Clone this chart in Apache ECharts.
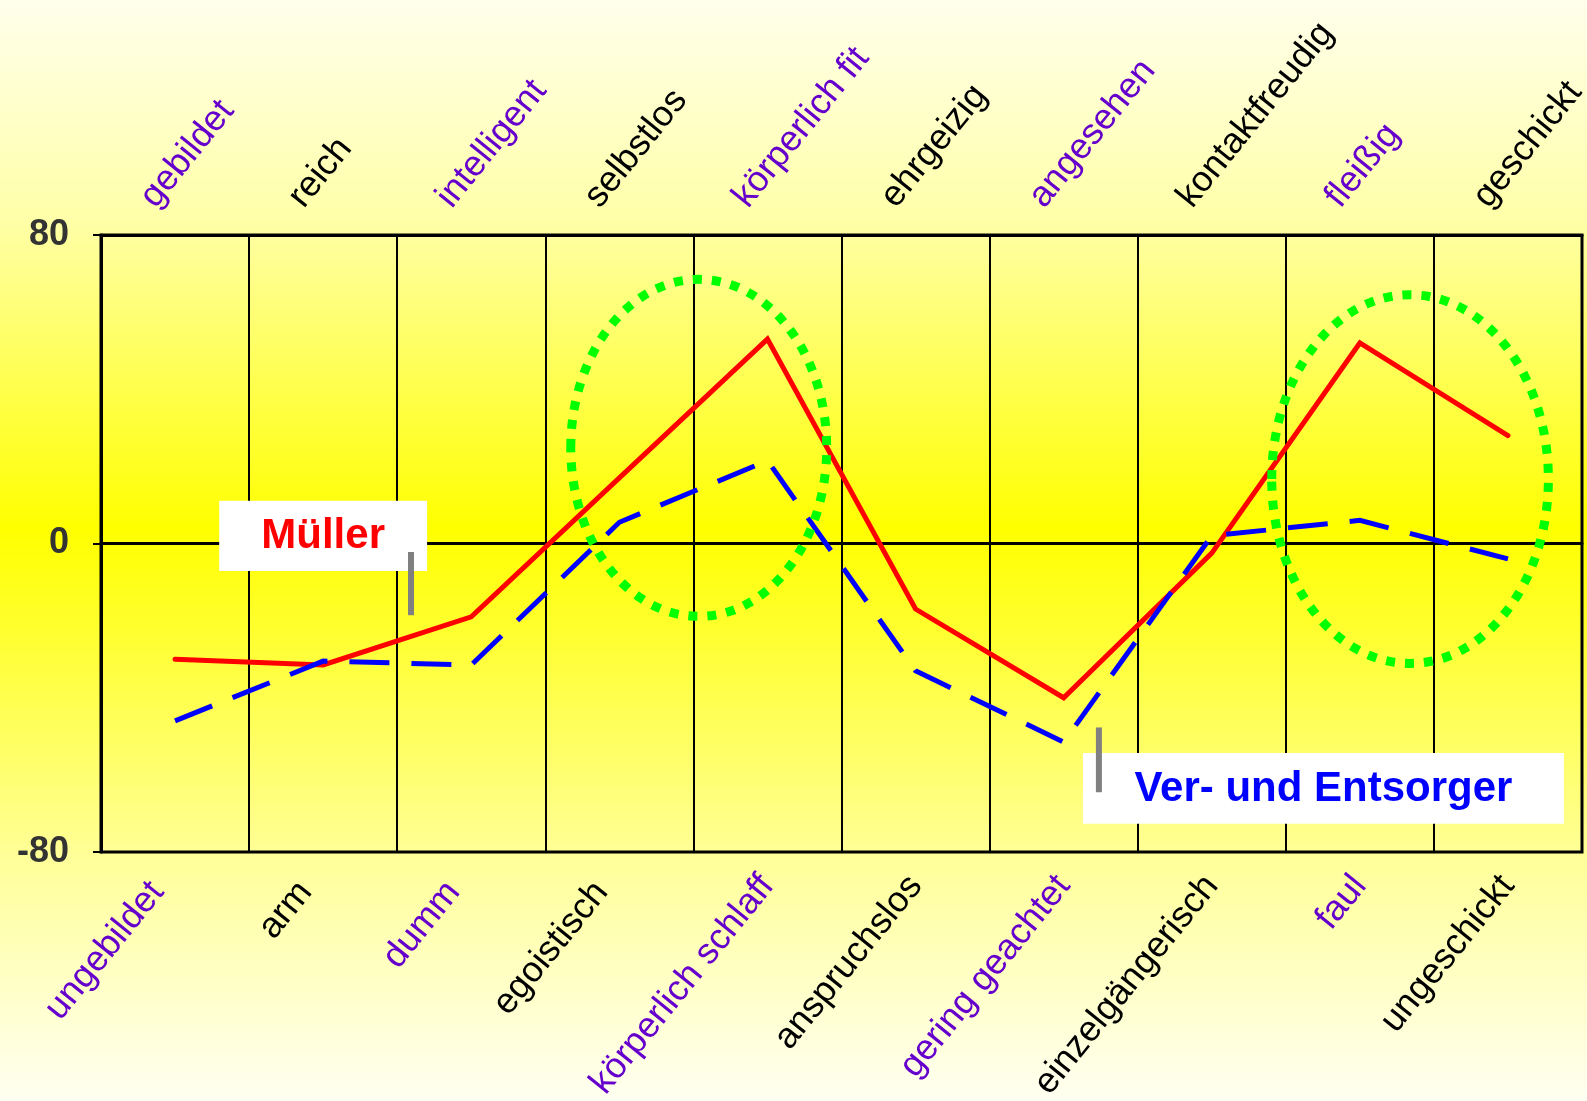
<!DOCTYPE html>
<html>
<head>
<meta charset="utf-8">
<script src="https://cdn.jsdelivr.net/npm/echarts@6/dist/echarts.min.js"></script>
<style>
html,body{margin:0;padding:0;background:#ffffec;}
#chart{width:1587px;height:1101px;}
</style>
</head>
<body>
<div id="chart"></div>
<script>
// ---- data ----
const negativeTraits = ['ungebildet','arm','dumm','egoistisch','körperlich schlaff','anspruchslos','gering geachtet','einzelgängerisch','faul','ungeschickt'];
const positiveTraits = ['gebildet','reich','intelligent','selbstlos','körperlich fit','ehrgeizig','angesehen','kontaktfreudig','fleißig','geschickt'];
const muellerValues = [-30, -31.5, -19, 17, 53, -17, -40, -2.5, 52, 28];
const entsorgerValues = [-46, -30.5, -31.5, 5.5, 21.5, -33, -51.5, 2, 6, -4];
const yMin = -80, yMax = 80, yStep = 80;
const seriesNames = ['Müller', 'Ver- und Entsorger'];

// ---- style ----
const FONT = "'Liberation Sans', Arial, Helvetica, sans-serif";
const PURPLE = '#6600CC';
const labelColor = (v, i) => (i % 2 === 0 ? PURPLE : '#000000');
const LBL = {fontSize: 36, fontFamily: FONT};

const chart = echarts.init(document.getElementById('chart'), null, {renderer: 'canvas'});

const option = {
  animation: false,
  backgroundColor: new echarts.graphic.LinearGradient(0, 0, 0, 1, [
    {offset: 0, color: '#FFFFEC'},
    {offset: 0.2, color: '#FFFFA8'},
    {offset: 0.48, color: '#FFFF00'},
    {offset: 0.78, color: '#FFFF99'},
    {offset: 1, color: '#FFFFF2'}
  ]),
  grid: {
    left: 101, right: 5, top: 235, bottom: 249,
    show: true, borderColor: '#000', borderWidth: 3, backgroundColor: 'transparent',
    containLabel: false, outerBoundsMode: 'none'
  },
  xAxis: [
    {
      type: 'category', data: negativeTraits, position: 'bottom', boundaryGap: true,
      axisLine: {show: true, lineStyle: {color: '#000', width: 3}},
      axisTick: {show: false},
      splitLine: {show: true, interval: 0, lineStyle: {color: '#000', width: 2}},
      axisLabel: {
        interval: 0, rotate: 51, margin: 28, fontSize: 36, fontFamily: FONT, color: labelColor,
        formatter: (v, i) => '{' + (i % 2 === 0 ? 'p' : 'k') + (i < 4 ? 'A' : '') + '|' + v + '}',
        rich: {
          p: Object.assign({color: PURPLE}, LBL),
          k: Object.assign({color: '#000000'}, LBL),
          pA: Object.assign({color: PURPLE, padding: [0, 16, 20, 0]}, LBL),
          kA: Object.assign({color: '#000000', padding: [0, 16, 20, 0]}, LBL)
        }
      }
    },
    {
      type: 'category', data: positiveTraits, position: 'top', boundaryGap: true,
      axisLine: {show: true, lineStyle: {color: '#000', width: 3}},
      axisTick: {show: false},
      splitLine: {show: false},
      axisLabel: {
        interval: 0, rotate: -51, margin: 10, fontSize: 36, fontFamily: FONT, color: labelColor,
        formatter: (v, i) => '{' + (i % 2 === 0 ? 'p' : 'k') + '|' + v + '}',
        rich: {
          p: Object.assign({color: PURPLE, padding: [0, 0, 70, 0]}, LBL),
          k: Object.assign({color: '#000000', padding: [0, 0, 70, 0]}, LBL)
        }
      }
    }
  ],
  yAxis: {
    type: 'value', min: yMin, max: yMax, interval: yStep,
    axisLine: {show: true, lineStyle: {color: '#000', width: 3}},
    axisTick: {show: true, length: 8, lineStyle: {color: '#000', width: 2}},
    splitLine: {show: true, lineStyle: {color: '#000', width: 2}},
    axisLabel: {margin: 32, fontSize: 36, fontWeight: 'bold', color: '#333333', fontFamily: FONT}
  },
  series: [
    {
      name: seriesNames[0], type: 'line', data: muellerValues, xAxisIndex: 0, yAxisIndex: 0,
      symbol: 'none', smooth: false, z: 3,
      lineStyle: {color: '#FF0000', width: 5, cap: 'round', join: 'miter'}
    },
    {
      name: seriesNames[1], type: 'line', data: entsorgerValues, xAxisIndex: 0, yAxisIndex: 0,
      symbol: 'none', smooth: false, z: 4,
      lineStyle: {color: '#0000FF', width: 5, type: [40, 22], cap: 'butt', join: 'miter'}
    }
  ]
};
chart.setOption(option);

// ---- annotations positioned in data space ----
const x0 = chart.convertToPixel({xAxisIndex: 0}, 0);
const x1 = chart.convertToPixel({xAxisIndex: 0}, 1);
const step = x1 - x0;
const px = idx => x0 + idx * step;
const py = v => chart.convertToPixel({yAxisIndex: 0}, v);
const unit = py(0) - py(1);

function ellipse(cIdx, cVal, rCats, rVals) {
  return {
    type: 'ellipse', z: 20, silent: true,
    shape: {cx: px(cIdx), cy: py(cVal), rx: rCats * step, ry: rVals * unit},
    style: {fill: 'none', stroke: '#00FF00', lineWidth: 9, lineDash: [9, 10], lineCap: 'butt'}
  };
}
function labelBox(cIdx, cVal, wCats, hVals, text, color) {
  const cx = px(cIdx), cy = py(cVal);
  const w = wCats * step, h = hVals * unit;
  return [
    {type: 'rect', z: 21, silent: true, shape: {x: cx - w / 2, y: cy - h / 2, width: w, height: h},
     style: {fill: '#FFFFFF', stroke: 'none'}},
    {type: 'text', z: 22, silent: true, x: cx, y: cy + 1,
     style: {text: text, fill: color, fontSize: 42, fontWeight: 'bold', fontFamily: FONT,
             align: 'center', verticalAlign: 'middle', textAlign: 'center', textVerticalAlign: 'middle'}}
  ];
}
function leader(idx, vTop, vBottom) {
  return {type: 'line', z: 23, silent: true,
          shape: {x1: px(idx), y1: py(vTop), x2: px(idx), y2: py(vBottom)},
          style: {stroke: '#808080', lineWidth: 6}};
}

const graphics = []
  .concat([ellipse(3.536, 24.8, 0.864, 43.7), ellipse(8.339, 16.7, 0.934, 47.8)])
  .concat(labelBox(1.0, 2.0, 1.404, 18.2, seriesNames[0], '#FF0000'))
  .concat(labelBox(7.754, -63.5, 3.247, 18.4, seriesNames[1], '#0000FF'))
  .concat([leader(1.593, -2.2, -18.6), leader(6.238, -47.7, -64.5)]);

chart.setOption({graphic: graphics});
</script>
</body>
</html>
